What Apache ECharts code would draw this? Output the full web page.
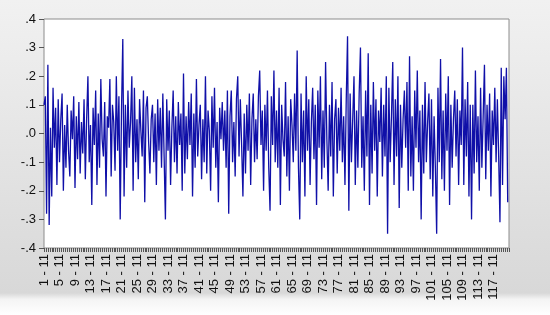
<!DOCTYPE html>
<html>
<head>
<meta charset="utf-8">
<script src="https://cdn.jsdelivr.net/npm/echarts@6/dist/echarts.min.js"></script>
<style>
  html, body { margin: 0; padding: 0; }
  #chart { width: 550px; height: 315px; }
</style>
</head>
<body>
<div id="chart"></div>
<script>
// observation axis: first label, step between labels, label suffix
var xStart = 1;
var xEnd = 121;
var xStep = 4;
var xSuffix = ' - 11';
var obsPerUnit = 3;

// y ticks
var yMin = -0.4;
var yMax = 0.4;
var yStep = 0.1;

// series values left to right
var values = [
  0.10, 0.13, -0.28, 0.24, -0.32, 0.02, -0.22, 0.16, -0.05, 0.09, -0.18, 0.12, -0.10, 0.05, 0.14, -0.20, 0.03, -0.12, 0.10, -0.06, -0.15, 0.08, -0.02, 0.13, -0.19, 0.06, -0.09, 0.11, -0.14, 0.04,
  -0.07, 0.12, -0.16, 0.05, 0.20, -0.10, 0.03, -0.25, 0.09, -0.04, 0.15, -0.18, 0.07, -0.12, 0.19, -0.02, -0.08, 0.11, -0.22, 0.06, 0.02, 0.19, -0.15, 0.10, 0.04, -0.13, 0.20, -0.06, 0.13, -0.30,
  0.08, 0.33, -0.22, 0.10, -0.12, 0.15, -0.05, 0.04, 0.20, -0.20, 0.16, -0.10, 0.05, -0.16, 0.12, 0.01, -0.08, 0.15, -0.24, 0.09, 0.13, -0.03, -0.14, 0.05, 0.10, -0.10, 0.07, -0.18, 0.12, -0.06,
  0.09, -0.12, 0.14, -0.08, -0.30, 0.12, -0.06, 0.08, -0.18, 0.02, 0.15, -0.10, 0.06, -0.14, 0.11, -0.04, 0.07, -0.20, 0.21, -0.14, 0.06, -0.09, 0.11, -0.04, 0.14, -0.22, 0.07, -0.12, 0.19, -0.08,
  0.03, 0.10, -0.16, 0.05, -0.10, 0.20, -0.14, 0.08, 0.01, -0.20, 0.13, -0.05, 0.16, -0.12, 0.04, -0.24, 0.09, -0.02, 0.11, -0.06, 0.08, -0.12, 0.15, -0.28, 0.06, 0.15, -0.10, 0.04, -0.15, 0.12,
  0.20, -0.08, 0.12, -0.04, -0.22, 0.07, -0.14, 0.10, -0.06, 0.14, -0.18, 0.05, 0.14, -0.10, 0.05, -0.09, 0.13, 0.22, -0.04, 0.08, -0.20, 0.10, -0.06, 0.15, -0.12, -0.27, 0.13, -0.04, 0.22, -0.10,
  0.08, -0.12, 0.16, -0.25, 0.10, -0.02, -0.08, 0.18, -0.15, 0.06, -0.20, 0.12, 0.03, -0.10, 0.14, -0.06, 0.29, -0.12, -0.30, 0.14, -0.10, 0.08, -0.22, 0.20, -0.06, 0.12, -0.18, 0.04, 0.16, -0.09,
  0.10, -0.25, 0.15, -0.05, 0.20, -0.16, 0.08, -0.12, 0.25, -0.02, -0.20, 0.10, -0.08, 0.18, -0.22, 0.05, 0.12, -0.14, 0.09, -0.06, 0.16, -0.10, 0.06, -0.18, 0.12, 0.34, -0.27, 0.14, -0.10, 0.05,
  0.20, -0.18, 0.08, -0.12, 0.14, 0.30, -0.12, 0.06, -0.20, 0.15, -0.08, 0.28, -0.25, 0.10, -0.14, 0.18, -0.06, 0.12, -0.22, 0.08, -0.03, 0.16, -0.15, 0.10, -0.08, 0.20, -0.35, 0.16, -0.10, 0.06,
  0.25, -0.18, 0.12, -0.08, 0.20, -0.26, 0.10, -0.12, 0.05, 0.15, -0.05, 0.18, -0.20, 0.27, -0.15, 0.06, -0.20, 0.15, -0.05, 0.22, -0.10, 0.08, -0.30, 0.10, -0.14, 0.18, -0.10, 0.04, 0.14, -0.16,
  0.12, -0.22, 0.06, -0.12, -0.35, 0.16, -0.10, 0.26, -0.16, 0.08, -0.20, 0.14, -0.06, 0.20, -0.25, 0.10, -0.12, 0.05, 0.15, -0.08, 0.12, -0.18, 0.08, -0.04, 0.30, -0.18, 0.12, -0.08, 0.18, -0.22,
  0.10, -0.30, 0.10, -0.14, 0.22, -0.10, 0.06, -0.20, 0.16, -0.12, 0.06, 0.24, -0.16, 0.10, -0.06, 0.14, -0.22, 0.08, -0.04, 0.16, -0.10, 0.12, -0.08, -0.31, 0.23, -0.18, 0.20, 0.05, 0.23, -0.24
];

var points = values.map(function (v, i) {
  return [xStart + i / obsPerUnit, v];
});

var chart = echarts.init(document.getElementById('chart'));

var option = {
  animation: false,
  backgroundColor: {
    type: 'linear',
    x: 0, y: 0, x2: 0, y2: 1,
    colorStops: [
      { offset: 0, color: '#f1f1f1' },
      { offset: 0.93, color: '#d8d8d8' },
      { offset: 0.95, color: '#f4f4f4' },
      { offset: 1, color: '#ffffff' }
    ]
  },
  grid: {
    left: 44,
    right: 41,
    top: 19,
    bottom: 67,
    show: true,
    backgroundColor: '#ffffff',
    borderColor: '#8c8c8c',
    borderWidth: 1
  },
  xAxis: {
    type: 'value',
    min: xStart,
    max: xEnd,
    interval: xStep,
    axisLine: { show: false, onZero: false },
    axisTick: { show: true, length: 4, lineStyle: { color: '#555' } },
    minorTick: { show: true, splitNumber: 8, length: 4, lineStyle: { color: '#555' } },
    splitLine: { show: false },
    axisLabel: {
      rotate: 90,
      showMaxLabel: false,
      margin: 6,
      fontFamily: 'Liberation Sans',
      fontSize: 13,
      color: '#111',
      formatter: function (v) { return v + xSuffix; }
    }
  },
  yAxis: {
    type: 'value',
    min: yMin,
    max: yMax,
    interval: yStep,
    axisLine: { show: false, onZero: false },
    axisTick: { show: true, length: 5, lineStyle: { color: '#555' } },
    splitLine: { show: false },
    axisLabel: {
      margin: 8,
      fontFamily: 'Liberation Sans',
      fontSize: 13,
      color: '#111',
      formatter: function (v) {
        return v.toFixed(1).replace('0.', '.');
      }
    }
  },
  series: [{
    type: 'line',
    data: points,
    symbol: 'none',
    lineStyle: { color: '#1010a8', width: 1.3 }
  }]
};

chart.setOption(option);
</script>
</body>
</html>
